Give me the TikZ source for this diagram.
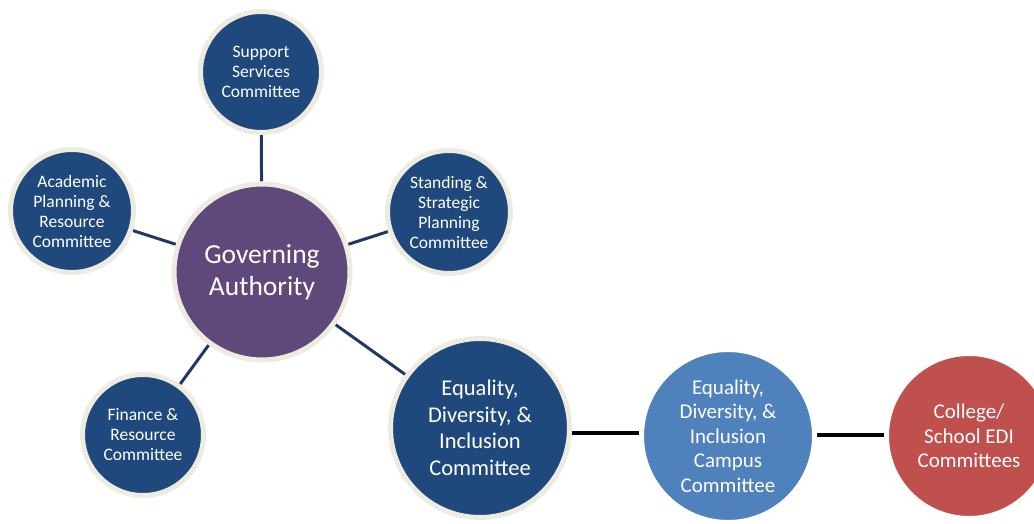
\documentclass[tikz,border=0pt]{standalone}
\usepackage{fontspec}
\setmainfont{Carlito}
\usetikzlibrary{shadows,backgrounds}

\definecolor{navyfill}{HTML}{1F497D}
\definecolor{plumfill}{HTML}{5F497A}
\definecolor{skyfill}{HTML}{4F81BD}
\definecolor{brickfill}{HTML}{C0504D}
\definecolor{creamrim}{HTML}{EEECE1}
\definecolor{linknavy}{HTML}{1F3864}

\tikzset{
  bubble/.style={circle, draw=creamrim, line width=5pt, text=white,
    align=center, inner sep=0pt,
    drop shadow={opacity=0.22, shadow xshift=1.5pt, shadow yshift=-2pt}},
  smallbubble/.style={bubble, fill=navyfill, minimum size=121pt,
    font=\fontsize{17.5}{20}\selectfont},
  spoke/.style={draw=linknavy, line width=3pt},
  chain/.style={draw=black, line width=4pt}
}

\begin{document}
\begin{tikzpicture}[x=1pt,y=1pt]
  \useasboundingbox (0,0) rectangle (1034,524);
  \clip (0,0) rectangle (1034,524);

  % central body
  \node[bubble, fill=plumfill, minimum size=176pt,
        font=\fontsize{27.5}{32}\selectfont] (ga) at (262,252)
        {Governing\\Authority};

  % standing committees around it
  \node[smallbubble] (sup) at (261,452) {Support\\Services\\Committee};
  \node[smallbubble, minimum size=123pt] (acad) at (72,313)
        {Academic\\Planning \&\\Resource\\Committee};
  \node[smallbubble, minimum size=123pt] (stand) at (449,312)
        {Standing \&\\Strategic\\Planning\\Committee};
  \node[smallbubble] (fin) at (143,89) {Finance \&\\Resource\\Committee};

  % EDI chain
  \node[bubble, fill=navyfill, minimum size=179pt,
        font=\fontsize{22.5}{26.5}\selectfont] (edi) at (480,96)
        {Equality,\\Diversity, \&\\Inclusion\\Committee};
  \node[bubble, draw=white, fill=skyfill, minimum size=173pt,
        font=\fontsize{21}{24.5}\selectfont] (campus) at (728,88)
        {Equality,\\Diversity, \&\\Inclusion\\Campus\\Committee};
  \node[bubble, draw=white, fill=brickfill, minimum size=165pt,
        font=\fontsize{21}{24.5}\selectfont] (college) at (969,88)
        {College/\\School EDI\\Committees};

  % level points for the horizontal links of the chain
  \coordinate (lvlA) at (0,91);
  \coordinate (lvlB) at (0,89);

  \begin{pgfonlayer}{background}
    \draw[spoke] (ga) -- (sup);
    \draw[spoke] (ga) -- (acad);
    \draw[spoke] (ga) -- (stand);
    \draw[spoke] (ga) -- (fin);
    \draw[spoke] (ga) -- (edi);
    \draw[chain] (lvlA -| edi.east) -- (lvlA -| campus.west);
    \draw[chain] (lvlB -| campus.east) -- (lvlB -| college.west);
  \end{pgfonlayer}
\end{tikzpicture}
\end{document}
